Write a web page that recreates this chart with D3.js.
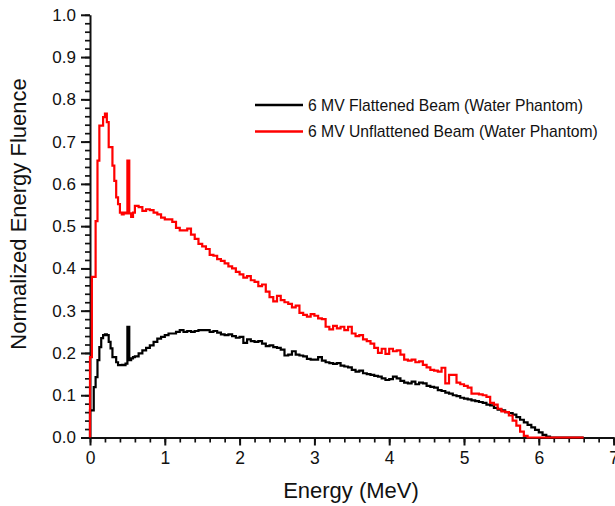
<!DOCTYPE html>
<html>
<head>
<meta charset="utf-8">
<script src="https://cdn.jsdelivr.net/npm/d3@7"></script>
<style>
  body { margin: 0; background: #fff; }
  text { font-family: "Liberation Sans", Arial, sans-serif; fill: #111; }
</style>
</head>
<body>
<div id="chart"></div>
<script>
// bin left edges (MeV): 0.025 steps up to 0.6, then 0.05 steps
var fineEnergy = [0, 0.025, 0.05, 0.075, 0.1, 0.125, 0.15, 0.175, 0.2, 0.225, 0.25, 0.275,
  0.3, 0.325, 0.35, 0.375, 0.4, 0.425, 0.45, 0.475, 0.5, 0.525, 0.55, 0.575];

var flattenedFine = [0.064, 0.064, 0.119, 0.143, 0.183, 0.214, 0.235, 0.242, 0.244, 0.242, 0.226, 0.211,
  0.19, 0.19, 0.178, 0.171, 0.171, 0.172, 0.171, 0.175, 0.262, 0.183, 0.187, 0.19];

var unflattenedFine = [0.19, 0.38, 0.38, 0.512, 0.655, 0.738, 0.738, 0.758, 0.766, 0.746, 0.687, 0.687,
  0.643, 0.607, 0.568, 0.552, 0.532, 0.528, 0.532, 0.53, 0.655, 0.53, 0.522, 0.532];

// 0.6 .. 6.55 MeV in 0.05 steps
var flattenedCoarse = [
  0.192, 0.199, 0.206, 0.212, 0.218, 0.226, 0.234, 0.238, 0.242, 0.246, // 0.60-1.05
  0.246, 0.250, 0.254, 0.250, 0.252, 0.250, 0.252, 0.254, 0.254, 0.254, // 1.10-1.55
  0.250, 0.252, 0.248, 0.244, 0.242, 0.244, 0.240, 0.236, 0.238, 0.224, // 1.60-2.05
  0.232, 0.228, 0.226, 0.228, 0.222, 0.216, 0.218, 0.214, 0.212, 0.208, // 2.10-2.55
  0.194, 0.196, 0.204, 0.196, 0.194, 0.192, 0.186, 0.184, 0.184, 0.190, // 2.60-3.05
  0.182, 0.178, 0.176, 0.174, 0.176, 0.170, 0.168, 0.166, 0.160, 0.156, // 3.10-3.55
  0.158, 0.152, 0.150, 0.148, 0.146, 0.144, 0.140, 0.136, 0.138, 0.144, // 3.60-4.05
  0.140, 0.134, 0.130, 0.128, 0.132, 0.126, 0.130, 0.128, 0.122, 0.120, // 4.10-4.55
  0.118, 0.112, 0.110, 0.106, 0.104, 0.100, 0.098, 0.094, 0.092, 0.090, // 4.60-5.05
  0.088, 0.086, 0.084, 0.082, 0.078, 0.076, 0.070, 0.066, 0.064, 0.060, // 5.10-5.55
  0.058, 0.054, 0.048, 0.042, 0.036, 0.030, 0.024, 0.018, 0.012, 0.006, // 5.60-6.05
  0.002, 0, 0, 0, 0, 0, 0, 0, 0, 0                                      // 6.10-6.55
];

var unflattenedCoarse = [
  0.548, 0.545, 0.536, 0.540, 0.538, 0.532, 0.528, 0.520, 0.516, 0.516, // 0.60-1.05
  0.510, 0.496, 0.490, 0.490, 0.494, 0.480, 0.470, 0.458, 0.452, 0.446, // 1.10-1.55
  0.432, 0.430, 0.422, 0.418, 0.412, 0.405, 0.400, 0.392, 0.386, 0.378, // 1.60-2.05
  0.382, 0.372, 0.368, 0.358, 0.362, 0.345, 0.332, 0.322, 0.335, 0.325, // 2.10-2.55
  0.320, 0.316, 0.308, 0.312, 0.295, 0.290, 0.286, 0.292, 0.288, 0.282, // 2.60-3.05
  0.280, 0.262, 0.256, 0.264, 0.258, 0.262, 0.254, 0.262, 0.246, 0.240, // 3.10-3.55
  0.242, 0.232, 0.228, 0.222, 0.212, 0.200, 0.210, 0.198, 0.210, 0.204, // 3.60-4.05
  0.206, 0.196, 0.184, 0.182, 0.184, 0.178, 0.180, 0.172, 0.166, 0.160, // 4.10-4.55
  0.158, 0.156, 0.165, 0.128, 0.148, 0.148, 0.130, 0.126, 0.122, 0.118, // 4.60-5.05
  0.104, 0.104, 0.102, 0.100, 0.096, 0.082, 0.078, 0.068, 0.062, 0.060, // 5.10-5.55
  0.052, 0.040, 0.028, 0.014, 0.004, 0, 0, 0, 0, 0,                     // 5.60-6.05
  0, 0, 0, 0, 0, 0, 0, 0, 0, 0                                          // 6.10-6.55
];

var seriesNames = ["6 MV Flattened Beam (Water Phantom)", "6 MV Unflattened Beam (Water Phantom)"];
var seriesColors = ["#000000", "#ff0000"];
var xTicks = [0, 1, 2, 3, 4, 5, 6, 7];
var yTicks = [0, 0.1, 0.2, 0.3, 0.4, 0.5, 0.6, 0.7, 0.8, 0.9, 1.0];

var coarseEnergy = flattenedCoarse.map(function(d, i) { return +(0.6 + i * 0.05).toFixed(2); });
var energy = fineEnergy.concat(coarseEnergy);

function toSeries(fine, coarse) {
  var vals = fine.concat(coarse);
  var pts = [{e: 0, v: 0}];
  vals.forEach(function(v, i) { pts.push({e: energy[i], v: v}); });
  pts.push({e: energy[energy.length - 1] + 0.05, v: vals[vals.length - 1]});
  return pts;
}

var series = [toSeries(flattenedFine, flattenedCoarse), toSeries(unflattenedFine, unflattenedCoarse)];

var width = 615, height = 506;
var svg = d3.select("#chart").append("svg")
  .attr("width", width)
  .attr("height", height);

var x = d3.scaleLinear().domain([0, 7]).range([90, 613.6]);
var y = d3.scaleLinear().domain([0, 1]).range([437.5, 14.8]);

// minor ticks
svg.append("g")
  .attr("transform", "translate(0," + y(0) + ")")
  .call(d3.axisBottom(x).tickValues(d3.range(0, 7.01, 0.2)).tickSize(5).tickFormat(""))
  .call(function(g) { g.select(".domain").remove(); g.selectAll("line").attr("stroke-width", 1.7).attr("stroke", "#111"); });

svg.append("g")
  .attr("transform", "translate(" + x(0) + ",0)")
  .call(d3.axisLeft(y).tickValues(d3.range(0, 1.001, 0.02)).tickSize(5).tickFormat(""))
  .call(function(g) { g.select(".domain").remove(); g.selectAll("line").attr("stroke-width", 1.7).attr("stroke", "#111"); });

// major ticks + labels
svg.append("g")
  .attr("transform", "translate(0," + y(0) + ")")
  .call(d3.axisBottom(x).tickValues(xTicks).tickSize(8).tickSizeOuter(0).tickPadding(6).tickFormat(d3.format("d")))
  .call(function(g) {
    g.select(".domain").attr("stroke-width", 2).attr("stroke", "#111");
    g.selectAll("line").attr("stroke-width", 2).attr("stroke", "#111");
    g.selectAll("text").attr("font-size", 17.5).attr("fill", "#111");
  });

svg.append("g")
  .attr("transform", "translate(" + x(0) + ",0)")
  .call(d3.axisLeft(y).tickValues(yTicks).tickSize(9).tickSizeOuter(0).tickPadding(5).tickFormat(d3.format(".1f")))
  .call(function(g) {
    g.select(".domain").attr("stroke-width", 2).attr("stroke", "#111");
    g.selectAll("line").attr("stroke-width", 2).attr("stroke", "#111");
    g.selectAll("text").attr("font-size", 17).attr("fill", "#111");
  });

// data lines
var line = d3.line()
  .x(function(d) { return x(d.e); })
  .y(function(d) { return y(d.v); })
  .curve(d3.curveStepAfter);

svg.selectAll("path.series")
  .data(series)
  .enter().append("path")
  .attr("class", "series")
  .attr("d", line)
  .attr("fill", "none")
  .attr("stroke", function(d, i) { return seriesColors[i]; })
  .attr("stroke-width", 2.2)
  .attr("stroke-linejoin", "miter");

// axis titles
svg.append("text")
  .attr("x", 351).attr("y", 498)
  .attr("text-anchor", "middle")
  .attr("font-size", 22)
  .text("Energy (MeV)");

svg.append("text")
  .attr("transform", "translate(26,214) rotate(-90)")
  .attr("text-anchor", "middle")
  .attr("font-size", 22)
  .text("Normalized Energy Fluence");

// legend
var legend = svg.selectAll("g.legend")
  .data(seriesNames)
  .enter().append("g")
  .attr("class", "legend")
  .attr("transform", function(d, i) { return "translate(255," + (105 + i * 26.5) + ")"; });

legend.append("line")
  .attr("x1", 0).attr("x2", 48)
  .attr("stroke", function(d, i) { return seriesColors[i]; })
  .attr("stroke-width", 2.5);

legend.append("text")
  .attr("x", 53).attr("y", 5.5)
  .attr("font-size", 15.7)
  .text(function(d) { return d; });
</script>
</body>
</html>
